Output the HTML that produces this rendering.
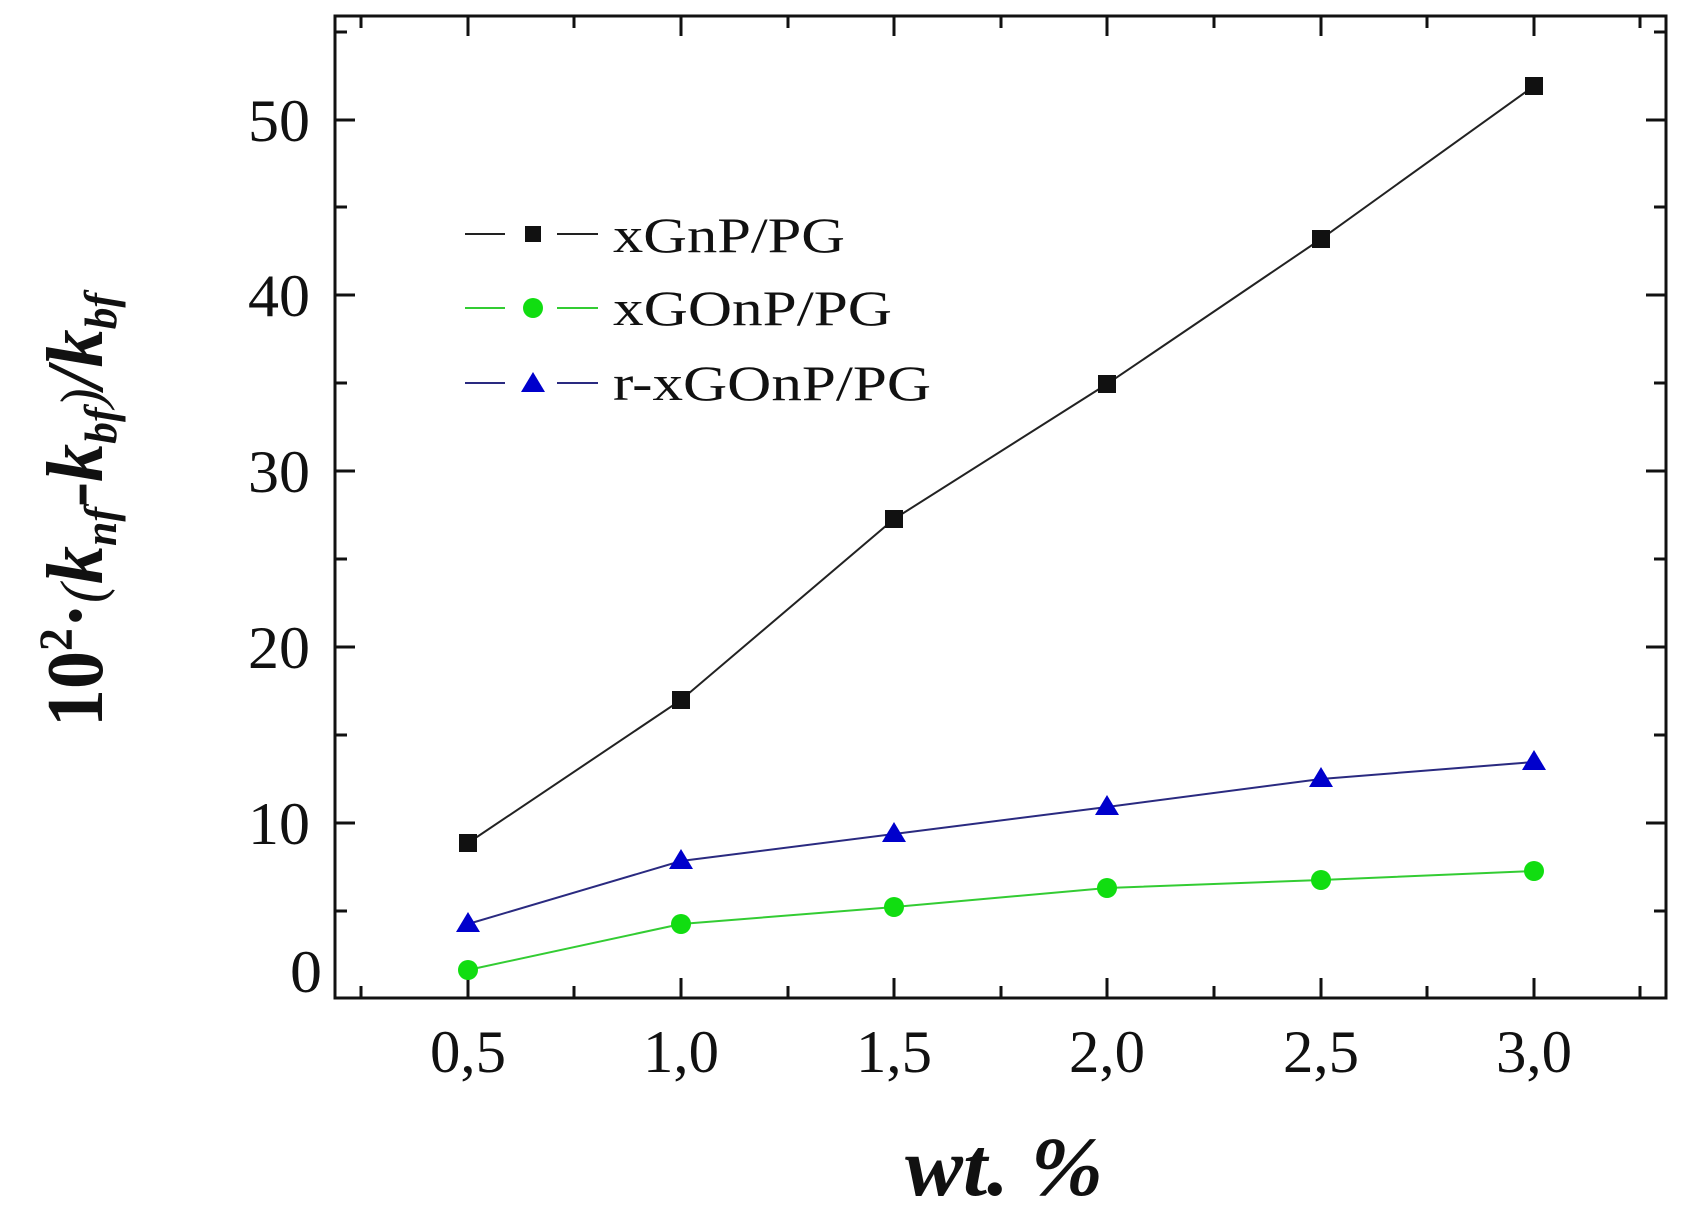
<!DOCTYPE html>
<html><head><meta charset="utf-8"><style>html,body{margin:0;padding:0;background:#fff}</style></head>
<body>
<svg width="1683" height="1218" viewBox="0 0 1683 1218" xmlns="http://www.w3.org/2000/svg" font-family="'Liberation Serif', serif">
<rect width="1683" height="1218" fill="#fff"/>
<g stroke="#111" stroke-width="3" fill="none">
<rect x="335" y="16" width="1331" height="982"/>
<path d="M468 998v-20M681 998v-20M894 998v-20M1107 998v-20M1321 998v-20M1534 998v-20
M468 16v20M681 16v20M894 16v20M1107 16v20M1321 16v20M1534 16v20"/>
<path d="M361 998v-12M574 998v-12M788 998v-12M1001 998v-12M1214 998v-12M1427 998v-12M1640 998v-12
M361 16v12M574 16v12M788 16v12M1001 16v12M1214 16v12M1427 16v12M1640 16v12"/>
<path d="M335 823h20M335 647h20M335 471h20M335 295h20M335 120h20
M1666 823h-20M1666 647h-20M1666 471h-20M1666 295h-20M1666 120h-20"/>
<path d="M335 911h12M335 735h12M335 559h12M335 383h12M335 207h12M335 32h12
M1666 911h-12M1666 735h-12M1666 559h-12M1666 383h-12M1666 207h-12M1666 32h-12"/>
</g>
<g font-size="60" fill="#111" text-anchor="end">
<text x="322" y="992" textLength="32" lengthAdjust="spacingAndGlyphs">0</text>
<text x="310" y="844" textLength="62" lengthAdjust="spacingAndGlyphs">10</text>
<text x="310" y="668" textLength="62" lengthAdjust="spacingAndGlyphs">20</text>
<text x="310" y="492" textLength="62" lengthAdjust="spacingAndGlyphs">30</text>
<text x="310" y="316" textLength="62" lengthAdjust="spacingAndGlyphs">40</text>
<text x="310" y="141" textLength="62" lengthAdjust="spacingAndGlyphs">50</text>
</g>
<g font-size="60" fill="#111" text-anchor="middle">
<text x="468" y="1072" textLength="76" lengthAdjust="spacingAndGlyphs">0,5</text>
<text x="681" y="1072" textLength="76" lengthAdjust="spacingAndGlyphs">1,0</text>
<text x="894" y="1072" textLength="76" lengthAdjust="spacingAndGlyphs">1,5</text>
<text x="1107" y="1072" textLength="76" lengthAdjust="spacingAndGlyphs">2,0</text>
<text x="1321" y="1072" textLength="76" lengthAdjust="spacingAndGlyphs">2,5</text>
<text x="1534" y="1072" textLength="76" lengthAdjust="spacingAndGlyphs">3,0</text>
</g>
<polyline fill="none" stroke="#222" stroke-width="2" points="468,843 681,700 894,519 1107,384 1321,239 1534,86"/>
<polyline fill="none" stroke="#2a2a80" stroke-width="2" points="468,924 681,861 894,834 1107,807 1321,779 1534,762"/>
<polyline fill="none" stroke="#33cc33" stroke-width="2" points="468,970 681,924 894,907 1107,888 1321,880 1534,871"/>
<g fill="#111">
<rect x="459" y="834" width="18" height="18"/><rect x="672" y="691" width="18" height="18"/><rect x="885" y="510" width="18" height="18"/>
<rect x="1098" y="375" width="18" height="18"/><rect x="1312" y="230" width="18" height="18"/><rect x="1525" y="77" width="18" height="18"/>
</g>
<g fill="#11dd11">
<circle cx="468" cy="970" r="10"/><circle cx="681" cy="924" r="10"/><circle cx="894" cy="907" r="10"/>
<circle cx="1107" cy="888" r="10"/><circle cx="1321" cy="880" r="10"/><circle cx="1534" cy="871" r="10"/>
</g>
<g fill="#0000cc">
<path d="M468 912l12 20h-24z"/><path d="M681 849l12 20h-24z"/><path d="M894 822l12 20h-24z"/>
<path d="M1107 795l12 20h-24z"/><path d="M1321 767l12 20h-24z"/><path d="M1534 750l12 20h-24z"/>
</g>
<g stroke-width="2">
<path d="M465 234h40M557 234h41" stroke="#222"/>
<path d="M465 308h40M557 308h41" stroke="#33cc33"/>
<path d="M465 383h40M557 383h41" stroke="#2a2a80"/>
</g>
<rect x="525" y="226" width="16" height="16" fill="#111"/>
<circle cx="533" cy="308" r="10" fill="#11dd11"/>
<path d="M533 372l12 20h-24z" fill="#0000cc"/>
<g font-size="50" fill="#111">
<text x="613" y="252" textLength="232" lengthAdjust="spacingAndGlyphs">xGnP/PG</text>
<text x="613" y="325" textLength="279" lengthAdjust="spacingAndGlyphs">xGOnP/PG</text>
<text x="613" y="400" textLength="318" lengthAdjust="spacingAndGlyphs">r-xGOnP/PG</text>
</g>
<text x="1004" y="1195" font-size="84" font-weight="bold" font-style="italic" text-anchor="middle" fill="#111" textLength="198" lengthAdjust="spacingAndGlyphs">wt. %</text>
<text transform="translate(102,510) rotate(-90)" font-size="80" font-weight="bold" fill="#111" text-anchor="middle" textLength="434" lengthAdjust="spacingAndGlyphs">10<tspan font-size="48" dy="-30">2</tspan><tspan dy="30">·</tspan><tspan font-weight="normal" font-style="italic" font-size="60">(</tspan><tspan font-style="italic">k</tspan><tspan font-style="italic" font-size="46" dy="14">nf</tspan><tspan dy="-14">-</tspan><tspan font-style="italic">k</tspan><tspan font-style="italic" font-size="46" dy="14">bf</tspan><tspan font-weight="normal" font-style="italic" font-size="60" dy="-14">)</tspan><tspan font-style="italic">/k</tspan><tspan font-style="italic" font-size="46" dy="14">bf</tspan></text>
</svg>
</body></html>
